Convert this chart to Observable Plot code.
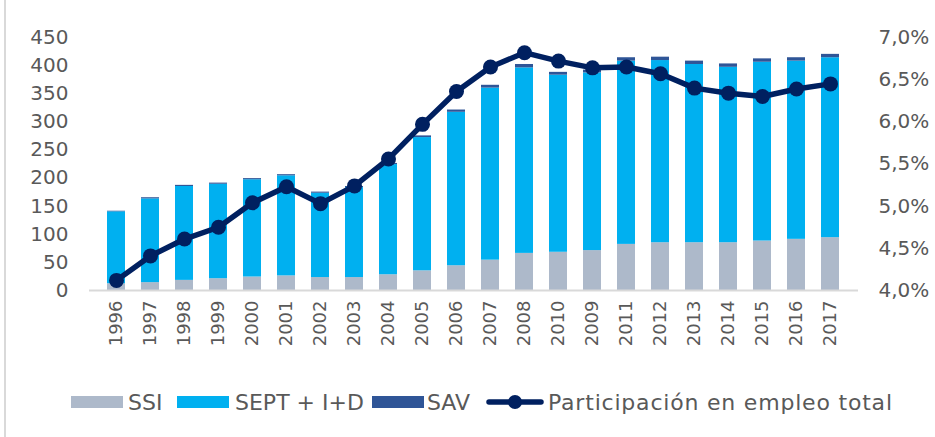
<!DOCTYPE html>
<html><head><meta charset="utf-8">
<script src="https://cdn.jsdelivr.net/npm/d3@7"></script>
<script src="https://cdn.jsdelivr.net/npm/@observablehq/plot@0.6"></script>
<style>
body{margin:0;background:#fff;}
#wrap{position:relative;width:935px;height:437px;overflow:hidden;}
#frame{position:absolute;left:4px;top:0;width:2px;height:437px;background:#d9d9d9;}
#chart{position:absolute;left:0;top:0;}
#legend{position:absolute;left:0;top:387px;width:935px;height:30px;font-family:"DejaVu Sans",sans-serif;font-size:22px;color:#595959;}
.item{position:absolute;top:0;height:30px;display:flex;align-items:center;white-space:nowrap;}
.sw{display:inline-block;width:52px;height:12px;}
</style></head>
<body><div id="wrap"><div id="frame"></div><div id="chart"></div><div id="legend"></div></div>
<script>
const years = ["1996","1997","1998","1999","2000","2001","2002","2003","2004","2005","2006","2007","2008","2010","2009","2011","2012","2013","2014","2015","2016","2017"];
const ssi  = [12,14,18,21,24,26,23,23,28,35,44,54,66,68,71,82,85,85,85,88,91,94];
const sept = [128,149,167,168,173,178,150,160,196,237,273,306,330,315,316,326,324,317,312,318,317,320];
const sav  = [1,2,2,2,2,2,2,2,2,3,4,5,6,5,5,6,6,6,6,6,6,6];
const participacion = [4.12,4.41,4.61,4.75,5.04,5.23,5.03,5.24,5.56,5.97,6.36,6.65,6.82,6.72,6.64,6.65,6.57,6.40,6.34,6.30,6.39,6.45];
const seriesNames = ["SSI","SEPT + I+D","SAV"];
const seriesColors = ["#adb9ca","#00b0f0","#2f5597"];
const lineName = "Participación en empleo total";
const lineColor = "#002060";
const leftTicks = [0,50,100,150,200,250,300,350,400,450];
const rightTicks = [4.0,4.5,5.0,5.5,6.0,6.5,7.0];
const rightLabels = ["4,0%","4,5%","5,0%","5,5%","6,0%","6,5%","7,0%"];

const leftMax = 450, rMin = 4.0, rMax = 7.0;
const toLeft = v => (v - rMin) / (rMax - rMin) * leftMax;

const table = [];
[ssi, sept, sav].forEach((arr, s) => arr.forEach((v, i) => table.push({year: years[i], series: seriesNames[s], value: v})));
const lineData = years.map((y, i) => ({year: y, pct: participacion[i]}));

const chart = Plot.plot({
  width: 935, height: 380,
  marginLeft: 89, marginRight: 77, marginTop: 37, marginBottom: 90,
  style: {fontFamily: "DejaVu Sans", fontSize: "20px", color: "#595959", background: "transparent"},
  x: {type: "band", domain: years, paddingInner: 0.465, paddingOuter: 0.233, label: null},
  y: {domain: [0, leftMax], label: null},
  color: {domain: seriesNames, range: seriesColors},
  marks: [
    Plot.barY(table, {x: "year", y: "value", fill: "series"}),
    Plot.ruleY([0], {stroke: "#d9d9d9", strokeWidth: 2}),
    Plot.line(lineData, {x: "year", y: d => toLeft(d.pct), stroke: lineColor, strokeWidth: 5.5}),
    Plot.dot(lineData, {x: "year", y: d => toLeft(d.pct), fill: lineColor, r: 7.5}),
    Plot.axisY({anchor: "left", ticks: leftTicks, tickSize: 0, tickPadding: 21, fontSize: 20, label: null}),
    Plot.axisY(rightTicks.map(toLeft), {anchor: "right", tickSize: 0, tickPadding: 20, fontSize: 20, label: null,
      tickFormat: d => rightLabels[rightTicks.findIndex(t => Math.abs(toLeft(t) - d) < 1e-6)]}),
    Plot.axisX({tickRotate: -90, tickSize: 0, tickPadding: 10, fontSize: 18, label: null})
  ]
});
document.getElementById("chart").appendChild(chart);

const legend = document.getElementById("legend");
const swLefts = [71, 177, 372];
const textLefts = [128, 235, 427];
seriesNames.forEach((n, i) => {
  const s = document.createElement("div");
  s.className = "item"; s.style.left = swLefts[i] + "px";
  s.innerHTML = `<span class="sw" style="background:${seriesColors[i]}"></span>`;
  legend.appendChild(s);
  const t = document.createElement("div");
  t.className = "item"; t.style.left = textLefts[i] + "px";
  t.textContent = n;
  legend.appendChild(t);
});
const ls = document.createElement("div");
ls.className = "item"; ls.style.left = "485px";
ls.innerHTML = `<svg width="60" height="30"><line x1="4" x2="56" y1="15" y2="15" stroke="${lineColor}" stroke-width="5.5" stroke-linecap="round"/><circle cx="30" cy="15" r="7" fill="${lineColor}"/></svg>`;
legend.appendChild(ls);
const lt = document.createElement("div");
lt.className = "item"; lt.style.left = "548px"; lt.style.letterSpacing = "0.8px";
lt.textContent = lineName;
legend.appendChild(lt);
</script></body></html>
